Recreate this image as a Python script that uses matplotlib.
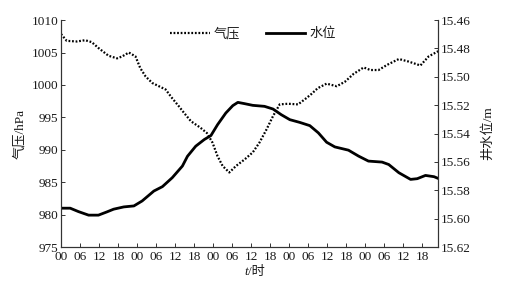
import matplotlib
matplotlib.use("Agg")
from matplotlib import pyplot as plt
from matplotlib.lines import Line2D

plt.rcParams['font.family'] = ['Liberation Serif', 'Noto Sans CJK SC', 'DejaVu Sans']
plt.rcParams['axes.unicode_minus'] = False

# hours since start, pressure (hPa)
press_hours = [0, 1.8, 5, 7.6, 9.7, 11.8, 15, 17.7, 19.3, 21.4, 23.5, 25, 26.7, 28.8,
               30.9, 33, 35, 37.2, 38.8, 41, 44, 46, 47.8, 49.4, 51, 53.1, 55.2, 57.9,
               60.5, 62.6, 64.8, 66.9, 69, 71.6, 74.8, 77.5, 79, 81, 83.8, 87, 89.6,
               92.3, 95.5, 97.6, 100.2, 102.9, 106.6, 109.7, 113.4, 116, 119]
press_vals = [1007.85, 1006.8, 1006.7, 1006.9, 1006.6, 1005.7, 1004.5, 1004.1, 1004.4,
              1005.0, 1004.4, 1002.6, 1001.3, 1000.3, 999.8, 999.3, 998.0, 996.7, 995.7,
              994.4, 993.4, 992.6, 991.1, 989.0, 987.5, 986.5, 987.5, 988.5, 989.6,
              991.1, 993.1, 995.2, 997.0, 997.1, 997.0, 998.0, 998.6, 999.5, 1000.2,
              999.8, 1000.5, 1001.7, 1002.7, 1002.3, 1002.3, 1003.1, 1004.0, 1003.6,
              1003.0, 1004.4, 1005.2]

# hours since start, well water level (m)
level_hours = [0, 2.9, 5.5, 8.7, 11.8, 14.5, 16.6, 19.8, 23, 25.6, 29.3, 32, 35.1, 38.3,
               39.9, 42.5, 45.2, 47.3, 49.4, 52, 54.2, 55.8, 57.9, 60.5, 64.2, 66.9,
               69.5, 72.2, 75.3, 78.5, 81.2, 83.8, 86.4, 90.7, 93.9, 97, 101.3, 103.4,
               106.6, 110.3, 112.4, 115, 117.7, 119]
level_vals = [15.5926, 15.5926, 15.5950, 15.5975, 15.5975, 15.5952, 15.5933, 15.5917,
              15.5910, 15.5875, 15.5805, 15.5774, 15.5711, 15.5629, 15.5560, 15.5489,
              15.5442, 15.5414, 15.5337, 15.5255, 15.5203, 15.5180, 15.5189, 15.5201,
              15.5208, 15.5227, 15.5267, 15.5302, 15.5321, 15.5344, 15.5395, 15.5461,
              15.5494, 15.5517, 15.5559, 15.5594, 15.5601, 15.5618, 15.5676, 15.5723,
              15.5718, 15.5695, 15.5704, 15.5716]

hour_labels = ['00', '06', '12', '18'] * 5
left_ticks = [975, 980, 985, 990, 995, 1000, 1005, 1010]
right_ticks = [15.46, 15.48, 15.50, 15.52, 15.54, 15.56, 15.58, 15.60, 15.62]

txt = '#1a1a1a'
fs = 9.5

fig = plt.figure(figsize=(5.26, 2.83), dpi=100)
ax = fig.add_axes([0.116, 0.127, 0.717, 0.802])
ax2 = ax.twinx()

ax.plot(press_hours, press_vals, color='black', linewidth=1.6,
        linestyle=(0, (0.8, 0.8)))
ax2.plot(level_hours, level_vals, color='black', linewidth=2.0)

ax.set_xlim(0, 119)
ax.set_ylim(975, 1010)
ax.set_yticks(left_ticks)
ax.set_xticks(range(0, 120, 6))
ax.set_xticklabels(hour_labels)
ax2.set_ylim(15.62, 15.46)
ax2.set_yticks(right_ticks)
ax2.set_yticklabels([f'{v:.2f}' for v in right_ticks])

for a in (ax, ax2):
    a.spines['top'].set_visible(False)
    for s in a.spines.values():
        s.set_color('#333333')
        s.set_linewidth(0.8)
    a.tick_params(direction='in', length=3, width=0.7, colors='#333333',
                  labelcolor=txt, labelsize=fs, pad=2)
ax.tick_params(axis='x', pad=3)

ax.set_ylabel('气压/hPa', fontsize=fs, color=txt, labelpad=4)
ax2.set_ylabel('井水位/m', fontsize=fs, color=txt, rotation=90, labelpad=8)

# x label: italic t followed by "/时"
ax.text(0.497, -0.11, 't', transform=ax.transAxes, fontsize=fs, color=txt,
        style='italic', ha='right', va='center')
ax.text(0.497, -0.11, '/时', transform=ax.transAxes, fontsize=fs, color=txt,
        ha='left', va='center')

handles = [Line2D([], [], color='black', linewidth=1.6, linestyle=(0, (0.8, 0.8))),
           Line2D([], [], color='black', linewidth=2.0)]
fig.legend(handles, ['气压', '水位'], loc='center', bbox_to_anchor=(0.481, 0.88),
           ncol=2, frameon=False, fontsize=fs, handlelength=3.0,
           handletextpad=0.3, columnspacing=1.9, labelcolor=txt)

fig.savefig('out.png', dpi=100)
